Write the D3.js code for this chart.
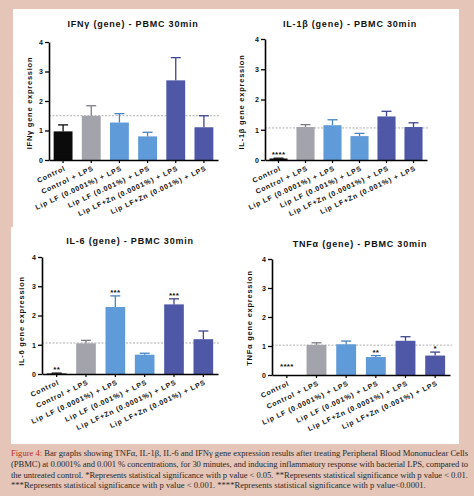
<!DOCTYPE html>
<html><head><meta charset="utf-8">
<script src="https://cdn.jsdelivr.net/npm/d3@7"></script>
<style>
html,body{margin:0;padding:0;background:#e4c5b8;}
svg{display:block;}
</style></head>
<body>
<svg id="c" width="474" height="496"></svg>
<script>
// ---------- data ----------
const categories = ["Control","Control + LPS","Lip LF (0.0001%) + LPS","Lip LF (0.001%) + LPS","Lip LF+Zn (0.0001%) + LPS","Lip LF+Zn (0.001%) + LPS"];
const yTicks = [0,1,2,3,4];

const ifngMean = [0.97,1.50,1.27,0.80,2.70,1.11];
const ifngErr  = [0.22,0.34,0.30,0.14,0.77,0.39];
const ifngStars = ["","","","","",""];
const ifngRef = 1.5;

const il1bMean = [0.05,1.09,1.15,0.79,1.44,1.09];
const il1bErr  = [0.01,0.08,0.18,0.09,0.17,0.14];
const il1bStars = ["****","","","","",""];
const il1bRef = 1.06;

const il6Mean = [0.02,1.05,2.29,0.66,2.38,1.19];
const il6Err  = [0.01,0.10,0.38,0.05,0.19,0.28];
const il6Stars = ["**","","***","","***",""];
const il6Ref = 1.06;

const tnfMean = [0,1.04,1.06,0.62,1.18,0.67];
const tnfErr  = [0,0.07,0.11,0.05,0.14,0.12];
const tnfStars = ["****","","","**","","*"];
const tnfRef = 1.03;

const titles = ["IFNγ (gene) - PBMC 30min","IL-1β (gene) - PBMC 30min","IL-6 (gene) - PBMC 30min","TNFα (gene) - PBMC 30min"];
const yLabels = ["IFNγ gene expression","IL-1β gene expression","IL-6 gene expression","TNFα gene expression"];

const captionLines = [
 "Bar graphs showing TNFα, IL-1β, IL-6 and IFNγ gene expression results after treating Peripheral Blood Mononuclear Cells",
 "(PBMC) at 0.0001% and 0.001 % concentrations, for 30 minutes, and inducing inflammatory response with bacterial LPS, compared to",
 "the untreated control. *Represents statistical significance with p value < 0.05. **Represents statistical significance with p value < 0.01.",
 "***Represents statistical significance with p value < 0.001. ****Represents statistical significance with p value<0.0001."
];

// ---------- styling / layout ----------
const barColors = ["#0b0b0b","#a3a3ab","#5f9bd8","#5f9bd8","#4e58a6","#4e58a6"];
const errColors = ["#0b0b0b","#7c7c84","#4a82bf","#4a82bf","#3c4590","#3c4590"];

const panels = [
 {mean:ifngMean, err:ifngErr, stars:ifngStars, ref:ifngRef, x0:49, x1:218, y0:160, y4:42, tx:133, ty:27, lx:29, ly:103},
 {mean:il1bMean, err:il1bErr, stars:il1bStars, ref:il1bRef, x0:265, x1:427, y0:160, y4:39, tx:350, ty:27, lx:241, ly:102},
 {mean:il6Mean, err:il6Err, stars:il6Stars, ref:il6Ref, x0:42, x1:218, y0:374, y4:257, tx:130, ty:244, lx:21, ly:321},
 {mean:tnfMean, err:tnfErr, stars:tnfStars, ref:tnfRef, x0:272, x1:450, y0:375, y4:259, tx:360, ty:247, lx:249, ly:318}
];

const svg = d3.select("#c");
svg.append("rect").attr("x",0).attr("y",0).attr("width",474).attr("height",496).attr("fill","#e4c5b8");
svg.append("rect").attr("x",13).attr("y",9).attr("width",446).attr("height",218).attr("fill","#fff");
svg.append("rect").attr("x",11).attr("y",227).attr("width",448).attr("height",217).attr("fill","#fff");

const sans = "Arial, 'Liberation Sans', sans-serif";

panels.forEach((p,i)=>{
  const g = svg.append("g");
  const x = d3.scaleBand().domain(categories).range([p.x0,p.x1]).paddingInner(0.33).paddingOuter(0.165);
  const y = d3.scaleLinear().domain([0,4]).range([p.y0,p.y4]);

  // title
  g.append("text").attr("x",p.tx).attr("y",p.ty).attr("text-anchor","middle")
   .attr("font-family",sans).attr("font-weight","bold").attr("font-size",9)
   .attr("letter-spacing",0.8).attr("fill","#111").text(titles[i]);

  // y label
  g.append("text").attr("transform",`translate(${p.lx},${p.ly}) rotate(-90)`)
   .attr("text-anchor","middle").attr("dominant-baseline","central")
   .attr("font-family",sans).attr("font-weight","bold").attr("font-size",7.5)
   .attr("letter-spacing",0.75).attr("fill","#111").text(yLabels[i]);

  // reference dotted line
  g.append("line").attr("x1",p.x0).attr("x2",p.x1+2).attr("y1",y(p.ref)).attr("y2",y(p.ref))
   .attr("stroke","#999").attr("stroke-width",0.8).attr("stroke-dasharray","2,1.5");

  // bars
  const data = categories.map((c,k)=>({c, m:p.mean[k], e:p.err[k], s:p.stars[k], k}));
  g.selectAll(".bar").data(data).enter().append("rect")
   .attr("x",d=>x(d.c)).attr("width",x.bandwidth())
   .attr("y",d=>y(d.m)).attr("height",d=>p.y0 - y(d.m))
   .attr("fill",d=>barColors[d.k]);

  // error bars (upper)
  const cap = 5;
  data.filter(d=>d.e>0).forEach(d=>{
    const cx = x(d.c)+x.bandwidth()/2;
    g.append("line").attr("x1",cx).attr("x2",cx).attr("y1",y(d.m)).attr("y2",y(d.m+d.e))
     .attr("stroke",errColors[d.k]).attr("stroke-width",1.3);
    g.append("line").attr("x1",cx-cap).attr("x2",cx+cap).attr("y1",y(d.m+d.e)).attr("y2",y(d.m+d.e))
     .attr("stroke",errColors[d.k]).attr("stroke-width",1.3);
  });

  // stars
  data.filter(d=>d.s).forEach(d=>{
    const cx = x(d.c)+x.bandwidth()/2;
    const base = d.m+d.e > 0 ? y(d.m+d.e) - 1 : p.y0 - 6;
    g.append("text").attr("x",cx).attr("y",base).attr("text-anchor","middle")
     .attr("font-family",sans).attr("font-weight","bold").attr("font-size",8)
     .attr("letter-spacing",0.3).attr("fill","#111").text(d.s);
  });

  // axes
  const ya = d3.axisLeft(y).tickValues(yTicks).tickFormat(d3.format("d")).tickSize(4).tickSizeOuter(0).tickPadding(2);
  const yg = g.append("g").attr("transform",`translate(${p.x0},0)`).call(ya);
  yg.select(".domain").attr("stroke","#000").attr("stroke-width",1.6);
  yg.selectAll(".tick line").attr("stroke","#000").attr("stroke-width",1.3);
  yg.selectAll(".tick text").attr("font-family",sans).attr("font-weight","bold").attr("font-size",7).attr("fill","#111");

  const xa = d3.axisBottom(x).tickSize(3).tickSizeOuter(0).tickFormat("");
  const xg = g.append("g").attr("transform",`translate(0,${p.y0})`).call(xa);
  xg.select(".domain").attr("stroke","#000").attr("stroke-width",1.6);
  xg.selectAll(".tick line").attr("stroke","#000").attr("stroke-width",1.2);

  // x labels
  g.selectAll(".xl").data(categories).enter().append("text")
   .attr("transform",c=>`translate(${x(c)+x.bandwidth()/2+3},${p.y0+10}) rotate(-25)`)
   .attr("text-anchor","end")
   .attr("font-family",sans).attr("font-weight","bold").attr("font-size",7)
   .attr("letter-spacing",0.8).attr("fill","#111").text(c=>c);
});

// caption
const cap = svg.append("g");
const baselines = [456,467,478,488];
captionLines.forEach((line,i)=>{
  const t = cap.append("text").attr("x",11).attr("y",baselines[i])
    .attr("font-family","'Liberation Serif', 'Times New Roman', serif").attr("font-size",8.6).attr("fill","#2a2a2a");
  if(i===0){
    t.append("tspan").attr("fill","#b83228").text("Figure 4: ");
  }
  t.append("tspan").text(line);
  if(i<3){ t.attr("textLength",457).attr("lengthAdjust","spacing"); }
});
</script>
</body></html>
